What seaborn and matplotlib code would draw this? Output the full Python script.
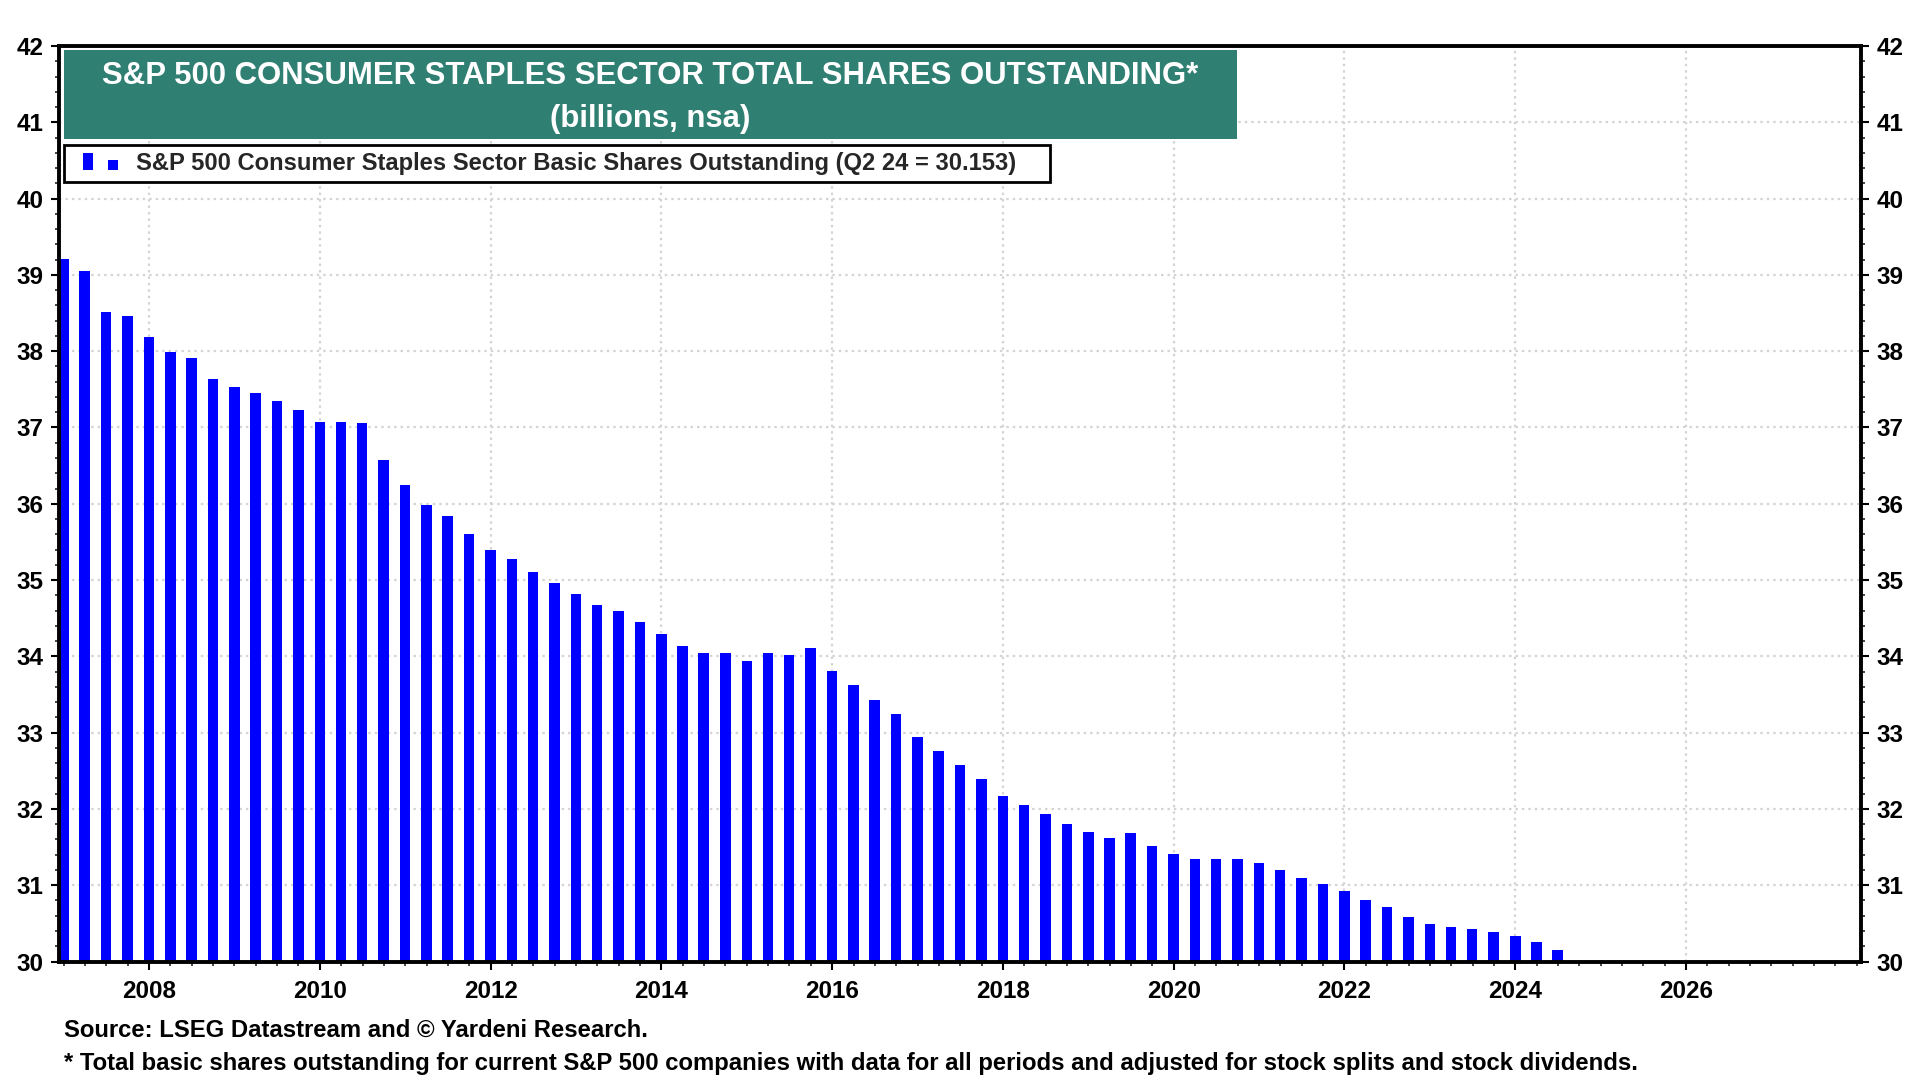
import matplotlib

matplotlib.use("Agg")

import matplotlib.pyplot as plt
import numpy as np
import pandas as pd
import seaborn as sns
from matplotlib.legend_handler import HandlerBase
from matplotlib.patches import Rectangle
from matplotlib.ticker import FixedLocator, MultipleLocator

# quarter-end observations, Q4 2006 .. Q2 2024 (billions of shares)
quarters = pd.period_range("2006Q4", "2024Q2", freq="Q")
shares = [
    39.21,
    39.05, 38.52, 38.46, 38.19,
    37.99, 37.91, 37.63, 37.53,
    37.45, 37.35, 37.23, 37.07,
    37.07, 37.06, 36.58, 36.25,
    35.99, 35.84, 35.60, 35.39,
    35.27, 35.10, 34.96, 34.82,
    34.67, 34.60, 34.45, 34.29,
    34.13, 34.04, 34.04, 33.94,
    34.04, 34.02, 34.11, 33.81,
    33.63, 33.43, 33.25, 32.94,
    32.76, 32.57, 32.39, 32.17,
    32.05, 31.94, 31.80, 31.70,
    31.62, 31.68, 31.51, 31.41,
    31.35, 31.35, 31.35, 31.29,
    31.20, 31.10, 31.02, 30.92,
    30.80, 30.72, 30.59, 30.49,
    30.45, 30.43, 30.39, 30.33,
    30.25, 30.153,
]
year_ticks = list(range(2008, 2027, 2))
y_ticks = list(range(30, 43))

title_line1 = "S&P 500 CONSUMER STAPLES SECTOR TOTAL SHARES OUTSTANDING*"
title_line2 = "(billions, nsa)"
legend_label = "S&P 500 Consumer Staples Sector Basic Shares Outstanding (Q2 24 = 30.153)"
source_text = "Source: LSEG Datastream and \u00a9 Yardeni Research."
note_text = ("* Total basic shares outstanding for current S&P 500 companies with data for all "
             "periods and adjusted for stock splits and stock dividends.")

BAR_BLUE = "#0000ff"
TEAL = "#307f73"
GRID_GREY = "#d4d4d4"

ends = quarters.end_time
df = pd.DataFrame({
    "year": ends.year + ends.dayofyear / np.where(ends.is_leap_year, 366, 365),
    "shares": shares,
})

sns.set_theme(style="white")
plt.rcParams["font.family"] = ["Liberation Sans", "DejaVu Sans"]
plt.rcParams["font.weight"] = "bold"

fig = plt.figure(figsize=(19.2, 10.8), dpi=100)
ax = fig.add_axes([0.0305, 0.1097, 0.9388, 0.8477])

sns.barplot(data=df, x="year", y="shares", native_scale=True, color=BAR_BLUE,
            saturation=1, width=0.5, linewidth=0, errorbar=None, ax=ax)

ax.set_xlim(2006.94, 2028.05)
ax.set_ylim(30, 42)
ax.set_xlabel("")
ax.set_ylabel("")

ax.xaxis.set_major_locator(FixedLocator(year_ticks))
ax.set_xticklabels([str(y) for y in year_ticks])
ax.xaxis.set_minor_locator(MultipleLocator(0.25))
ax.yaxis.set_major_locator(FixedLocator(y_ticks))
ax.yaxis.set_minor_locator(MultipleLocator(0.2))

ax.tick_params(axis="x", which="major", direction="out", length=6, width=1.5,
               pad=7, labelsize=17.5, colors="black", bottom=True, top=False)
ax.tick_params(axis="x", which="minor", direction="out", length=3, width=1.2,
               bottom=True, top=False)
ax.tick_params(axis="y", which="major", direction="out", length=6, width=1.5, pad=5,
               labelsize=17.5, colors="black", left=True, right=True,
               labelleft=True, labelright=True)
ax.tick_params(axis="y", which="minor", direction="out", length=3, width=1.2,
               left=True, right=True)
for lab in ax.get_xticklabels() + ax.get_yticklabels():
    lab.set_fontweight("bold")

ax.set_axisbelow(True)
ax.grid(which="major", color=GRID_GREY, linestyle=(0, (1.1, 1.8)), linewidth=1.6)
for spine in ax.spines.values():
    spine.set_visible(True)
    spine.set_color("black")
    spine.set_linewidth(2.8)

# teal title banner
fig.add_artist(Rectangle((0.0333, 0.8713), 0.611, 0.0824, transform=fig.transFigure,
                         facecolor=TEAL, edgecolor="none", zorder=5))
fig.text(0.3388, 0.9222, title_line1, ha="center", va="baseline", color="white",
         fontsize=22.4, fontweight="bold", zorder=6)
fig.text(0.3388, 0.8821, title_line2, ha="center", va="baseline", color="white",
         fontsize=22.4, fontweight="bold", zorder=6)


class PairedBarHandler(HandlerBase):
    def create_artists(self, legend, orig_handle, xdescent, ydescent, width, height,
                       fontsize, trans):
        x0, y0 = -xdescent, -ydescent
        tall = Rectangle((x0 + 0.25 * width, y0), 0.22 * width, 1.03 * height,
                         facecolor=BAR_BLUE, edgecolor="none", transform=trans)
        short = Rectangle((x0 + 0.77 * width, y0), 0.22 * width, 0.6 * height,
                          facecolor=BAR_BLUE, edgecolor="none", transform=trans)
        return [tall, short]


proxy = Rectangle((0, 0), 1, 1, facecolor=BAR_BLUE)
leg = ax.legend([proxy], [legend_label], handler_map={Rectangle: PairedBarHandler()},
                loc="upper left", bbox_to_anchor=(0.0333, 0.8657, 0.5135, 0.0),
                bbox_transform=fig.transFigure, mode="expand", borderaxespad=0,
                borderpad=0.3, handlelength=2.0, handletextpad=0.75,
                prop={"size": 17.1, "weight": "bold"}, fancybox=False, framealpha=1)
leg.get_frame().set_edgecolor("black")
leg.get_frame().set_linewidth(2.0)
leg.set_zorder(7)

fig.text(0.0332, 0.0401, source_text, ha="left", va="baseline", fontsize=17.2,
         fontweight="bold", color="black")
fig.text(0.0332, 0.0093, note_text, ha="left", va="baseline", fontsize=17.2,
         fontweight="bold", color="black")

fig.savefig("out.png", dpi=100)
